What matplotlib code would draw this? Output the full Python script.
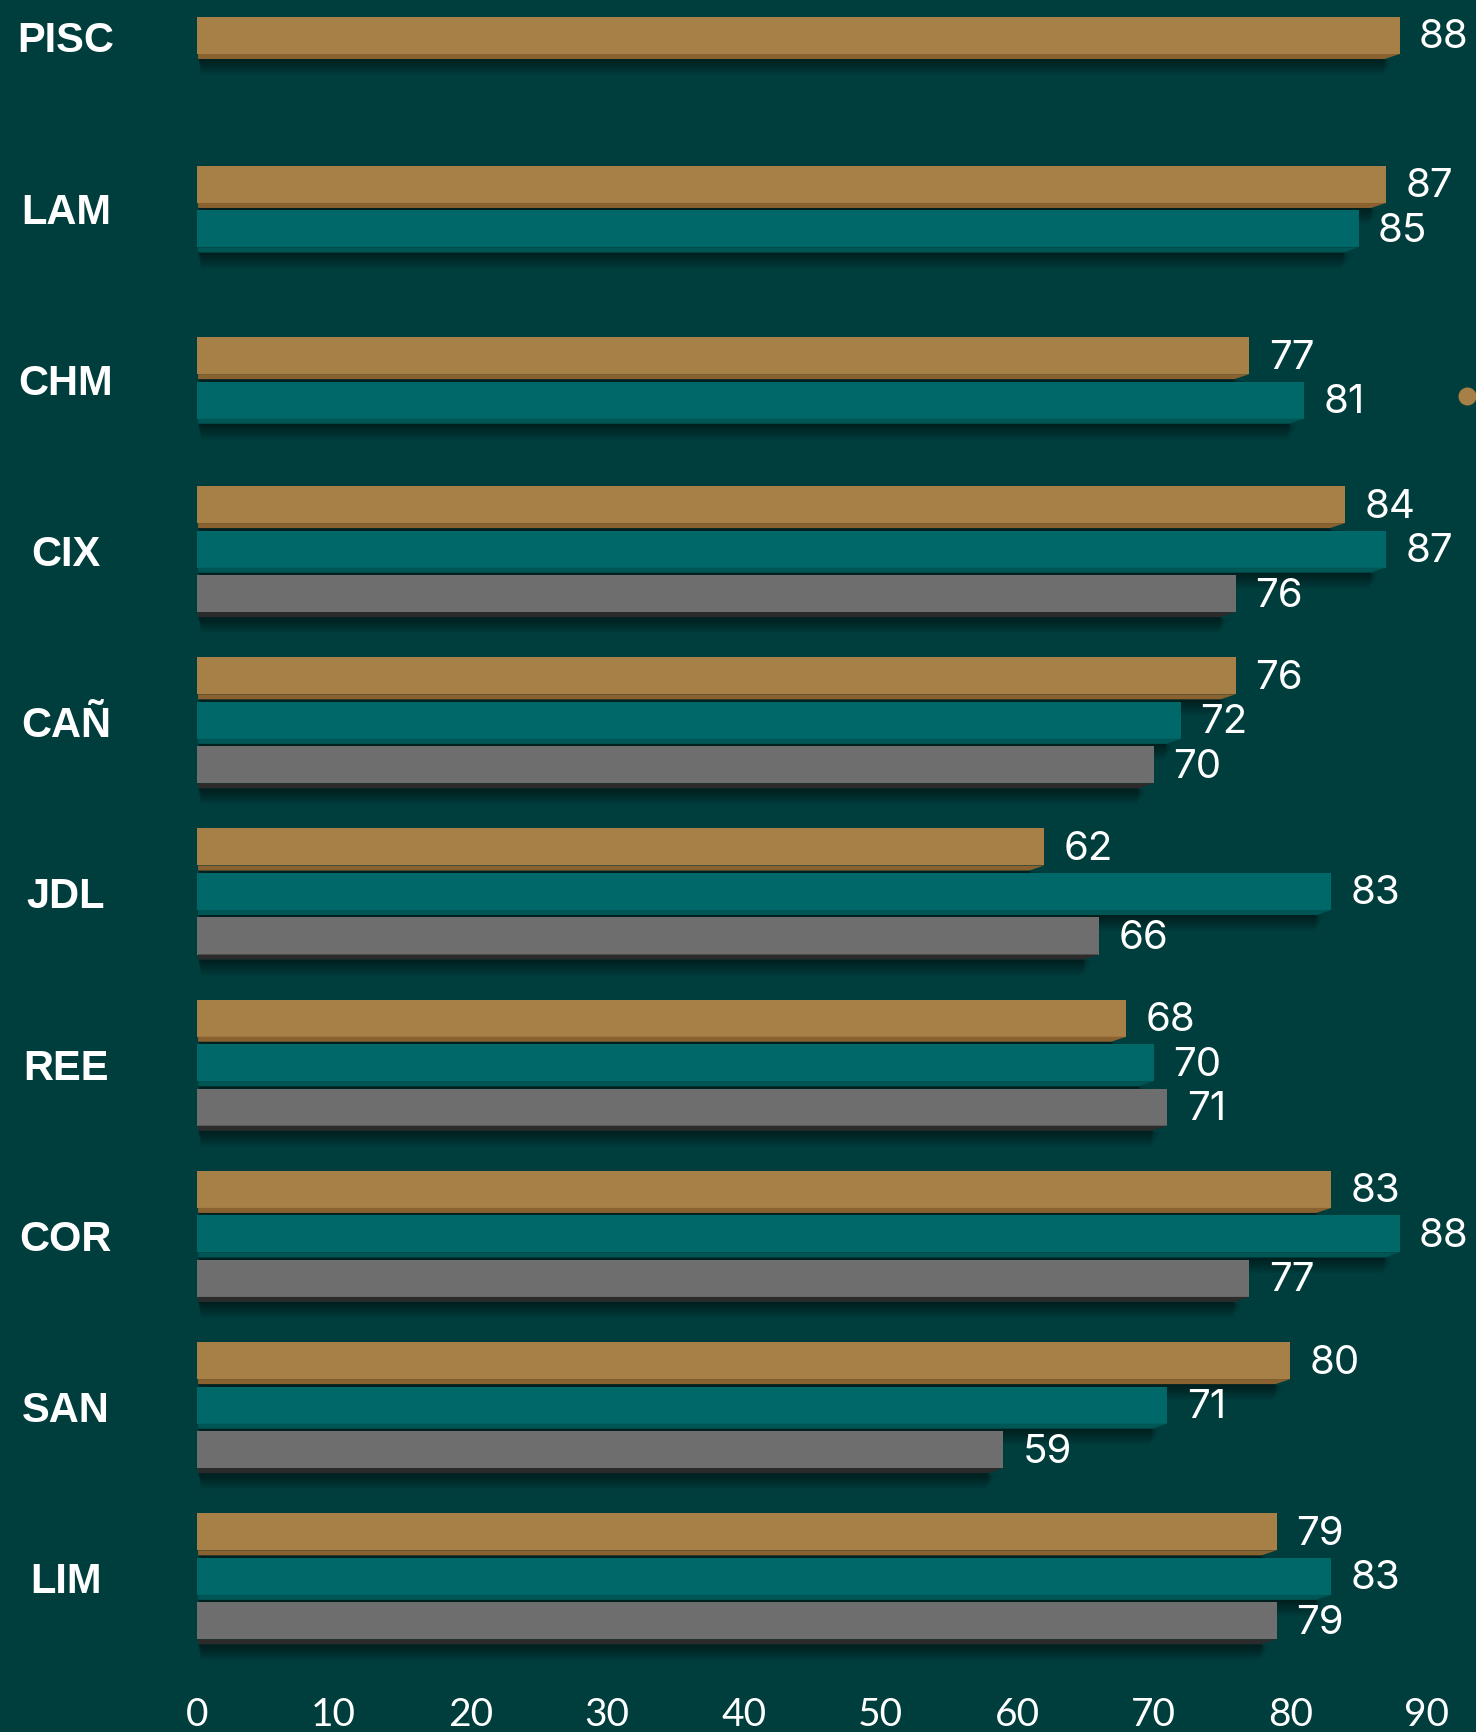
import matplotlib
matplotlib.use("Agg")
import matplotlib.pyplot as plt
from matplotlib.patches import Polygon, Rectangle
from matplotlib.lines import Line2D

# ---------------- data ----------------
categories = ["PISC", "LAM", "CHM", "CIX", "CAÑ", "JDL", "REE", "COR", "SAN", "LIM"]
series_gold = [88, 87, 77, 84, 76, 62, 68, 83, 80, 79]
series_teal = [None, 85, 81, 87, 72, 83, 70, 88, 71, 83]
series_gray = [None, None, None, 76, 70, 66, 71, 77, 59, 79]
x_ticks = [0, 10, 20, 30, 40, 50, 60, 70, 80, 90]

# ---------------- style ----------------
BG = "#003d3d"
face_colors = ["#a68047", "#006868", "#6e6e6e"]
edge_colors = ["#8a6230", "#005555", "#2b2b2b"]

W, H, DPI = 1476, 1732, 100
fig = plt.figure(figsize=(W / DPI, H / DPI), dpi=DPI, facecolor=BG)

ax_left, ax_right = 197, 1427
ax_bottom_px = 1680
ax = fig.add_axes([ax_left / W, (H - ax_bottom_px) / H, (ax_right - ax_left) / W, ax_bottom_px / H])
ax.set_facecolor(BG)

px_per_group = 171.2
first_center_px = 38
ax.set_xlim(0, 90)
ax.set_ylim((ax_bottom_px - first_center_px) / px_per_group, -first_center_px / px_per_group)

xunit_px = (ax_right - ax_left) / 90.0
main_h = 37 / px_per_group
edge_h = 5 / px_per_group
pitch = 44.5 / px_per_group
bevel = 15 / xunit_px
total_h = main_h + edge_h

all_series = [series_gold, series_teal, series_gray]

for i, cat in enumerate(categories):
    present = [(k, s[i]) for k, s in enumerate(all_series) if s[i] is not None]
    n = len(present)
    for j, (k, v) in enumerate(present):
        yc = i + (j - (n - 1) / 2) * pitch
        top = yc - total_h / 2
        main_bot = top + main_h
        edge_bot = main_bot + edge_h
        # soft shadow below the bar
        for L in range(7):
            hh = (L + 1) * 2.2 / px_per_group
            ax.add_patch(Polygon([(0.1, edge_bot), (v - bevel, edge_bot),
                                  (v - bevel * 0.3 - L * 0.15, edge_bot + hh), (0.3, edge_bot + hh)],
                                 closed=True, facecolor="black", edgecolor="none",
                                 alpha=0.08, zorder=1))
        # main face
        ax.add_patch(Rectangle((0, top), v, main_h, facecolor=face_colors[k],
                               edgecolor="none", zorder=3))
        # darker bottom edge with bevel
        ax.add_patch(Polygon([(0.08, main_bot), (v, main_bot), (v - bevel, edge_bot), (0.08, edge_bot)],
                             closed=True, facecolor=edge_colors[k], edgecolor="none", zorder=3))
        # value label
        ax.annotate(str(v), xy=(v, yc), xytext=(14, 0), textcoords="offset points",
                    ha="left", va="center", color="white", fontsize=29,
                    family=["Inter", "DejaVu Sans"], zorder=5)
    # category label
    ax.text(-9.6, i + 0.02, cat, ha="center", va="center", color="white",
            fontsize=30, fontweight="bold", family=["Liberation Sans", "DejaVu Sans"],
            transform=ax.transData, clip_on=False)

ax.set_xticks(x_ticks)
ax.set_xticklabels([str(t) for t in x_ticks])
ax.tick_params(axis="x", length=0, pad=12, labelsize=28, colors="white")
for lab in ax.get_xticklabels():
    lab.set_family(["Lato", "DejaVu Sans"])
ax.set_yticks([])
for sp in ax.spines.values():
    sp.set_visible(False)

# small decorative dot at the right edge
fig.add_artist(Line2D([1467 / W], [1 - 396 / H], marker="o", markersize=12,
                      color="#a68047", linestyle="none", transform=fig.transFigure))

fig.savefig("out.png", dpi=DPI, facecolor=BG)
